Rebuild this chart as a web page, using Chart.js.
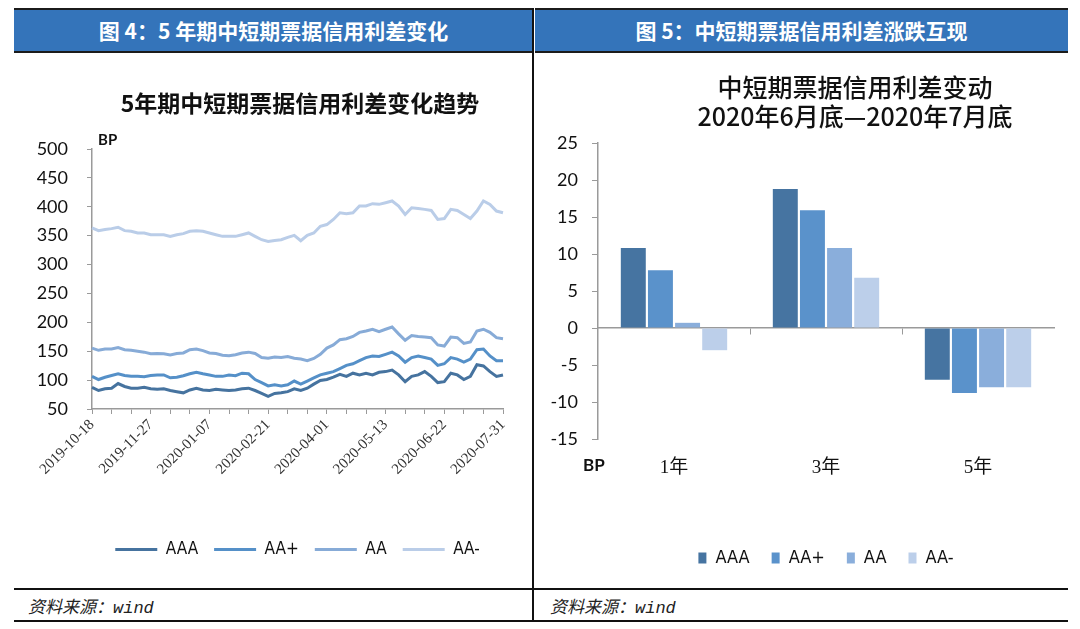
<!DOCTYPE html>
<html>
<head>
<meta charset="utf-8">
<script src="https://cdn.jsdelivr.net/npm/chart.js@4.4.1/dist/chart.umd.min.js"></script>
<style>
body { margin: 0; background: #fff; font-family: "Noto Sans CJK SC", sans-serif; }
#page { position: relative; width: 1080px; height: 629px; overflow: hidden; background: #fff; }
.hdr { position: absolute; top: 8px; height: 45px; box-sizing: border-box; background: #3474ba;
       border-top: 2px solid #1b1b1b; border-bottom: 2px solid #1b1b1b; color: #fff;
       font-weight: 700; font-size: 21px; line-height: 41px; text-align: center; }
.rule { position: absolute; background: #111; }
.src { position: absolute; top: 593px; font-size: 17px; font-style: italic; color: #222;
       font-family: "Liberation Mono", "Noto Sans CJK SC", monospace; }
.box { position: absolute; top: 55px; height: 542px; }
.ttl { position: absolute; text-align: center; color: #111; }
.bp { position: absolute; font-family: Lato, sans-serif; font-weight: 700; color: #111; }
</style>
</head>
<body>
<div id="page">
  <div class="hdr" style="left:14px;width:519px;">图 4：5 年期中短期票据信用利差变化</div>
  <div class="hdr" style="left:535px;width:533px;">图 5：中短期票据信用利差涨跌互现</div>
  <div class="rule" style="left:532px;top:8px;width:2px;height:614px;"></div>
  <div class="rule" style="left:14px;top:588px;width:1054px;height:2px;"></div>
  <div class="rule" style="left:14px;top:620px;width:1054px;height:2px;"></div>
  <div class="src" style="left:28px;">资料来源：wind</div>
  <div class="src" style="left:550px;">资料来源：wind</div>

  <div class="box" style="left:14px;width:518px;"><canvas id="chart0"></canvas></div>
  <div class="box" style="left:535px;width:533px;"><canvas id="chart1"></canvas></div>

  <div class="ttl" style="left:100px;width:400px;top:86px;font-size:23px;font-weight:700;line-height:32px;">5年期中短期票据信用利差变化趋势</div>
  <div class="ttl" style="left:655px;width:400px;top:72px;font-size:25px;font-weight:500;line-height:29px;">中短期票据信用利差变动<br>2020年6月底—2020年7月底</div>
  <div class="bp" style="left:98px;top:130px;font-size:15px;">BP</div>
  <div class="bp" style="left:583px;top:454px;font-size:17px;">BP</div>
</div>

<script>
// left chart: 5y spreads
const dates = [
    '2019-10-18', '2019-10-23', '2019-10-28', '2019-11-01', '2019-11-05', '2019-11-11', '2019-11-14', '2019-11-19', '2019-11-22',
    '2019-11-27', '2019-12-02', '2019-12-06', '2019-12-11', '2019-12-16', '2019-12-19', '2019-12-24', '2019-12-27', '2020-01-02',
    '2020-01-07', '2020-01-10', '2020-01-15', '2020-01-20', '2020-01-23', '2020-02-06', '2020-02-11', '2020-02-14', '2020-02-19',
    '2020-02-21', '2020-02-26', '2020-03-02', '2020-03-05', '2020-03-10', '2020-03-13', '2020-03-18', '2020-03-23', '2020-03-26',
    '2020-04-01', '2020-04-07', '2020-04-10', '2020-04-15', '2020-04-20', '2020-04-23', '2020-04-28', '2020-05-06', '2020-05-08',
    '2020-05-13', '2020-05-18', '2020-05-21', '2020-05-26', '2020-05-29', '2020-06-03', '2020-06-08', '2020-06-11', '2020-06-16',
    '2020-06-22', '2020-06-29', '2020-07-02', '2020-07-07', '2020-07-10', '2020-07-15', '2020-07-20', '2020-07-23', '2020-07-28',
    '2020-07-31'
];

const aaa = [
    87.5, 82, 85, 86, 94, 89, 86, 86, 87.5,
    85, 84, 85, 82, 80, 78, 83, 86, 83,
    82, 84, 83, 82, 83, 85, 86, 82, 77,
    72, 77, 78, 80, 85, 82, 86, 93, 99.5,
    101, 105, 110, 106.5, 112, 109, 112, 109, 113.6,
    114.7, 117.4, 109, 97.3, 106.5, 109, 114.7, 106.5, 95.7,
    97.3, 112, 109, 101, 106.5, 126.6, 124.5, 114.7, 106.5,
    109
];
const aaPlus = [
    106.5, 101, 105, 108, 111, 108, 106.5, 106.5, 106,
    108, 109, 109, 104, 105, 107.6, 111, 113.6, 111,
    109, 106.5, 106.5, 109, 107.6, 112, 111, 101, 95.7,
    90, 92, 90, 92, 98.4, 93, 98.4, 103.8, 109,
    112, 114.7, 120, 125.5, 128.3, 133.7, 139, 141.8, 140.8,
    144.6, 148.4, 141.8, 131, 139, 141.8, 139, 136.4, 125.5,
    128.3, 139, 136.4, 131, 136.4, 152.7, 153.8, 141.8, 133.7,
    133.7
];
const aa = [
    155.4, 151.6, 153.8, 153.8, 156.5, 152.7, 151.6, 150, 148.4,
    145.6, 146, 145.6, 143.5, 146, 147, 152.7, 153.8, 151,
    147, 146, 143, 142, 144, 147, 148.4, 146, 139,
    138, 140, 139, 140.8, 138, 136.4, 133.7, 137.5, 144.6,
    155.4, 160.9, 170, 171.7, 175.5, 182.6, 185, 188, 184,
    188, 191.8, 180, 169, 177, 175.5, 174.5, 173.4, 160.9,
    159, 174.5, 173.4, 163.6, 166, 185, 188, 182.6, 173.4,
    171.7
];
const aaMinus = [
    363.4, 358.7, 360.5, 362.2, 364.6, 358.7, 357.6, 354.7, 354.7,
    351.7, 351.7, 351.7, 348.8, 351.7, 353.5, 357.6, 358.7, 357.6,
    354.7, 351.7, 348.8, 348.8, 348.8, 351.7, 354.7, 348.8, 343,
    340, 341.8, 343, 347, 350.6, 341.3, 350.6, 354.7, 366.3,
    369.2, 378, 389.6, 388, 389.6, 401.3, 401.3, 405.4, 404.2,
    407, 410, 401.3, 386.7, 398.4, 397.2, 395.5, 393.7, 378,
    379.7, 395.5, 393.7, 386.7, 379.7, 392.6, 410, 404.2, 392.6,
    389.6
];

// right chart: change from end of June to end of July
const terms = ['1年', '3年', '5年'];
const aaaChg = [10.8, 18.8, -7.0];
const aaPlusChg = [7.8, 15.9, -8.8];
const aaChg = [0.7, 10.8, -8.0];
const aaMinusChg = [-3.0, 6.8, -8.0];

const ratingLabels = ['AAA', 'AA+', 'AA', 'AA-'];
const lineColors = ['#46739f', '#5590c8', '#87abd7', '#bacde8'];
const barColors = ['#4674a1', '#5a92cb', '#8aaedb', '#bccfea'];

const axisGray = '#9a9a9a';
const narrow = '"Liberation Sans Narrow", "Arial Narrow", "DejaVu Sans Condensed", "Liberation Sans", sans-serif';

Chart.defaults.animation = false;
Chart.defaults.plugins.tooltip.enabled = false;

function lineSet(i, data) {
    return {
        label: ratingLabels[i],
        data: data,
        borderColor: lineColors[i],
        backgroundColor: lineColors[i],
        borderWidth: 3,
        pointRadius: 0,
        tension: 0,
    };
}

new Chart(document.getElementById('chart0'), {
    type: 'line',
    data: {
        labels: dates,
        datasets: [lineSet(0, aaa), lineSet(1, aaPlus), lineSet(2, aa), lineSet(3, aaMinus)],
    },
    options: {
        responsive: true,
        maintainAspectRatio: false,
        layout: { padding: { top: 94, right: 29, bottom: 29, left: 0 } },
        scales: {
            x: {
                grid: {
                    drawOnChartArea: false,
                    tickLength: 5,
                    color: (ctx) => (ctx.index % 3 === 0 ? axisGray : 'rgba(0,0,0,0)'),
                },
                border: { color: axisGray, width: 1.5 },
                ticks: {
                    autoSkip: false,
                    maxRotation: 45,
                    minRotation: 45,
                    padding: 2,
                    color: '#333',
                    font: { family: '"Liberation Serif", serif', size: 15 },
                    callback: (v, i) => (i % 9 === 0 ? dates[i] : ''),
                },
                afterFit: (axis) => { axis.height = 116; },
            },
            y: {
                min: 50,
                max: 500,
                ticks: {
                    stepSize: 50,
                    padding: 19,
                    color: '#111',
                    font: { family: 'Lato, sans-serif', size: 18 },
                },
                grid: { drawOnChartArea: false, tickLength: 5, color: axisGray },
                border: { color: axisGray, width: 1.5 },
                afterFit: (axis) => { axis.width = 78; },
            },
        },
        plugins: {
            legend: {
                position: 'bottom',
                fullSize: false,
                labels: {
                    boxWidth: 42,
                    boxHeight: 3,
                    padding: 16,
                    color: '#111',
                    font: { family: narrow, size: 17 },
                    generateLabels: (chart) =>
                        Chart.defaults.plugins.legend.labels.generateLabels(chart).map((l) => ({
                            ...l, lineWidth: 0, fillStyle: l.strokeStyle,
                        })),
                },
            },
        },
    },
});

function barSet(i, data) {
    return {
        label: ratingLabels[i],
        data: data,
        backgroundColor: barColors[i],
        borderWidth: 0,
        categoryPercentage: 0.714,
        barPercentage: 0.92,
    };
}

new Chart(document.getElementById('chart1'), {
    type: 'bar',
    data: {
        labels: terms,
        datasets: [barSet(0, aaaChg), barSet(1, aaPlusChg), barSet(2, aaChg), barSet(3, aaMinusChg)],
    },
    options: {
        responsive: true,
        maintainAspectRatio: false,
        layout: { padding: { top: 88, right: 14, bottom: 20, left: 0 } },
        scales: {
            x: {
                position: { y: 0 },
                offset: true,
                ticks: { display: false },
                grid: {
                    drawOnChartArea: false,
                    tickLength: 6,
                    color: (ctx) => (ctx.index === 1 || ctx.index === 2 ? axisGray : 'rgba(0,0,0,0)'),
                },
                border: { color: axisGray, width: 1.5 },
            },
            x2: {
                type: 'category',
                position: 'bottom',
                offset: true,
                grid: { display: false, drawTicks: false },
                border: { display: false },
                ticks: {
                    padding: 18,
                    color: '#111',
                    font: { family: '"Liberation Serif", "Noto Sans CJK SC", serif', size: 19 },
                },
                afterFit: (axis) => { axis.height = 88; },
            },
            y: {
                min: -15,
                max: 25,
                ticks: {
                    stepSize: 5,
                    padding: 14,
                    color: '#111',
                    font: { family: 'Lato, sans-serif', size: 18 },
                },
                grid: { drawOnChartArea: false, tickLength: 6, color: axisGray },
                border: { color: axisGray, width: 1.5 },
                afterFit: (axis) => { axis.width = 63; },
            },
        },
        plugins: {
            legend: {
                position: 'bottom',
                fullSize: false,
                labels: {
                    boxWidth: 8,
                    boxHeight: 11,
                    padding: 22,
                    color: '#111',
                    font: { family: narrow, size: 18 },
                },
            },
        },
    },
});
</script>
</body>
</html>
